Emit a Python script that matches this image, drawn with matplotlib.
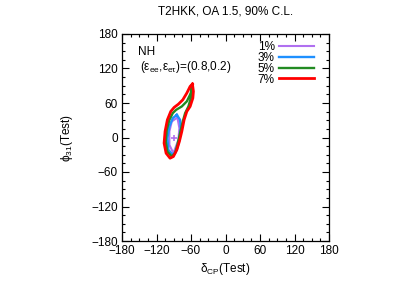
import numpy as np
import matplotlib
matplotlib.use("Agg")
import matplotlib.pyplot as plt
from matplotlib.ticker import MultipleLocator

plt.rcParams["font.family"] = ["Liberation Sans", "DejaVu Sans"]
plt.rcParams["mathtext.fontset"] = "custom"
plt.rcParams["mathtext.rm"] = "Liberation Sans"

# 90% C.L. contours in (delta_CP, phi_31) for each systematic
delta_1 = [-83.7, -80.2, -81.9, -90.6, -97.6, -97.6, -93.4, -83.7]
phi_1 = [34.9, 16.2, -4.1, -27.3, -12.9, 10.5, 27.9, 34.9]

delta_3 = [-84.7, -79.0, -77.7, -80.2, -84.7, -91.7, -99.3, -101.1, -97.6, -91.7, -84.7]
phi_3 = [39.4, 30.7, 16.2, -4.1, -21.6, -30.3, -21.6, -1.2, 19.2, 33.7, 39.4]

delta_5 = [-59.0, -60.3, -64.5, -70.2, -74.3, -79.0, -83.7, -87.7, -93.4, -101.1,
           -103.9, -102.1, -97.6, -91.7, -85.9, -76.0, -67.3, -60.3, -59.0]
phi_5 = [90.0, 68.5, 54.0, 42.4, 27.9, 7.5, -12.9, -27.3, -33.1, -24.4,
         -6.9, 13.3, 30.7, 42.4, 48.1, 54.0, 62.8, 77.2, 90.0]

delta_7 = [-57.5, -55.8, -56.8, -61.5, -67.3, -72.0, -76.0, -80.2, -84.7, -90.6,
           -96.4, -103.3, -106.8, -105.1, -101.1, -95.2, -89.4, -81.9, -74.3, -67.3,
           -61.5, -57.5]
phi_7 = [92.9, 80.2, 68.5, 54.0, 45.3, 30.7, 10.5, -6.9, -21.6, -33.1,
         -36.0, -27.3, -9.9, 10.5, 30.7, 45.3, 52.3, 58.0, 65.5, 77.2,
         88.9, 92.9]

best_delta = [-90.0]
best_phi = [0.0]

labels = ["1%", "3%", "5%", "7%"]
colors = ["#b070f0", "#1e90ff", "#228b22", "#ff0000"]
widths = [1.5, 1.7, 1.7, 2.0]

fig = plt.figure(figsize=(4.15, 2.9), dpi=100)
ax = fig.add_axes([122 / 415, 49 / 290, 207 / 415, 207 / 290])

contours = [(delta_1, phi_1), (delta_3, phi_3), (delta_5, phi_5), (delta_7, phi_7)]
for (d, p), lab, c, w in zip(contours, labels, colors, widths):
    ax.plot(d, p, color=c, lw=w, label=lab, solid_joinstyle="round")

ax.plot(best_delta, best_phi, marker="+", ms=5, mew=1.2, color=colors[0], ls="none")

ax.set_xlim(-180, 180)
ax.set_ylim(-180, 180)
ax.xaxis.set_major_locator(MultipleLocator(60))
ax.yaxis.set_major_locator(MultipleLocator(60))
ax.xaxis.set_minor_locator(MultipleLocator(15))
ax.yaxis.set_minor_locator(MultipleLocator(15))
ax.tick_params(which="both", direction="in", top=True, right=True, labelsize=8.5, width=0.8)
ax.tick_params(which="major", length=5, pad=3)
ax.tick_params(which="minor", length=2.5)
for s in ax.spines.values():
    s.set_linewidth(0.9)

ax.set_title("T2HKK, OA 1.5, 90% C.L.", fontsize=8.5, pad=14)
ax.set_xlabel(r"$\mathregular{\delta_{CP}}$(Test)", fontsize=8.5, labelpad=3)
ax.set_ylabel(r"$\mathregular{\phi_{31}}$(Test)", fontsize=8.5, labelpad=12)

ax.text(0.075, 0.915, "NH", transform=ax.transAxes, fontsize=8.5, va="center")
ax.text(0.085, 0.84, r"($\mathregular{\varepsilon_{ee}}$,$\mathregular{\varepsilon_{e\tau}}$)=(0.8,0.2)",
        transform=ax.transAxes, fontsize=8.5, va="center")

ax.legend(loc="upper right", bbox_to_anchor=(0.96, 1.0), frameon=False, markerfirst=False,
          fontsize=8.5, handlelength=2.9, handletextpad=0.4, labelspacing=-0.1,
          borderaxespad=0.2)

fig.savefig("out.png", dpi=100)
